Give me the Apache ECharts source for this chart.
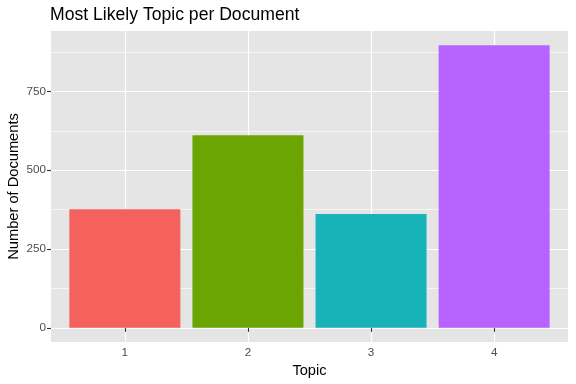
<!DOCTYPE html>
<html>
<head>
<meta charset="utf-8">
<script src="https://cdn.jsdelivr.net/npm/echarts@6/dist/echarts.min.js"></script>
<style>
html,body{margin:0;padding:0;background:#fff;}
#chart{width:576px;height:384px;}
</style>
</head>
<body>
<div id="chart"></div>
<script>
const topics = [1, 2, 3, 4];
const counts = [376, 611, 361, 897];
const barColors = ['#F5615C', '#6BA502', '#18B3B8', '#B863FF'];
const yTicks = [0, 250, 500, 750];
const yMinorTicks = [125, 375, 625, 875];

const dataMax = Math.max.apply(null, counts);
const yMin = -0.05 * dataMax;
const yMax = 1.05 * dataMax;

const chart = echarts.init(document.getElementById('chart'), null, {renderer: 'canvas'});
const font = 'Liberation Sans, Arial, Helvetica, sans-serif';

chart.setOption({
  animation: false,
  backgroundColor: '#ffffff',
  title: {
    text: 'Most Likely Topic per Document',
    left: 50, top: 6, padding: 0,
    textStyle: {fontFamily: font, fontSize: 17.6, fontWeight: 'normal', color: '#000'}
  },
  grid: {
    left: 51, right: 8, top: 31, bottom: 42,
    containLabel: false, outerBoundsMode: 'none',
    show: true, backgroundColor: '#E5E5E5', borderWidth: 0
  },
  xAxis: {
    type: 'value', min: 0.4, max: 4.6,
    name: 'Topic', nameLocation: 'middle', nameGap: 21, nameMoveOverlap: false,
    nameTextStyle: {fontFamily: font, fontSize: 14.67, color: '#000'},
    axisLine: {show: false},
    axisTick: {show: true, customValues: topics, length: 4, lineStyle: {color: '#333', width: 1.1}},
    axisLabel: {customValues: topics, fontFamily: font, fontSize: 11.7, color: '#4D4D4D', margin: 5},
    splitLine: {show: true, lineStyle: {color: '#fff', width: 1.2}}
  },
  yAxis: [{
    type: 'value', min: yMin, max: yMax,
    name: 'Number of Documents', nameLocation: 'middle', nameRotate: 90, nameGap: 30, nameMoveOverlap: false,
    nameTextStyle: {fontFamily: font, fontSize: 14.67, color: '#000'},
    axisLine: {show: false},
    axisTick: {show: true, customValues: yTicks, length: 4, lineStyle: {color: '#333', width: 1.1}},
    axisLabel: {customValues: yTicks, fontFamily: font, fontSize: 11.7, color: '#4D4D4D', margin: 5},
    splitLine: {show: true, lineStyle: {color: '#fff', width: 1.2}}
  }, {
    type: 'value', min: yMin, max: yMax, position: 'left',
    axisLine: {show: false},
    axisTick: {show: false, customValues: yMinorTicks},
    axisLabel: {show: false, customValues: yMinorTicks},
    splitLine: {show: true, lineStyle: {color: '#fff', width: 0.6}}
  }],
  series: [{
    type: 'bar',
    xAxisIndex: 0, yAxisIndex: 0,
    barWidth: 111,
    data: topics.map((t, i) => ({value: [t, counts[i]], itemStyle: {color: barColors[i]}})),
    z: 3
  }]
});
</script>
</body>
</html>
